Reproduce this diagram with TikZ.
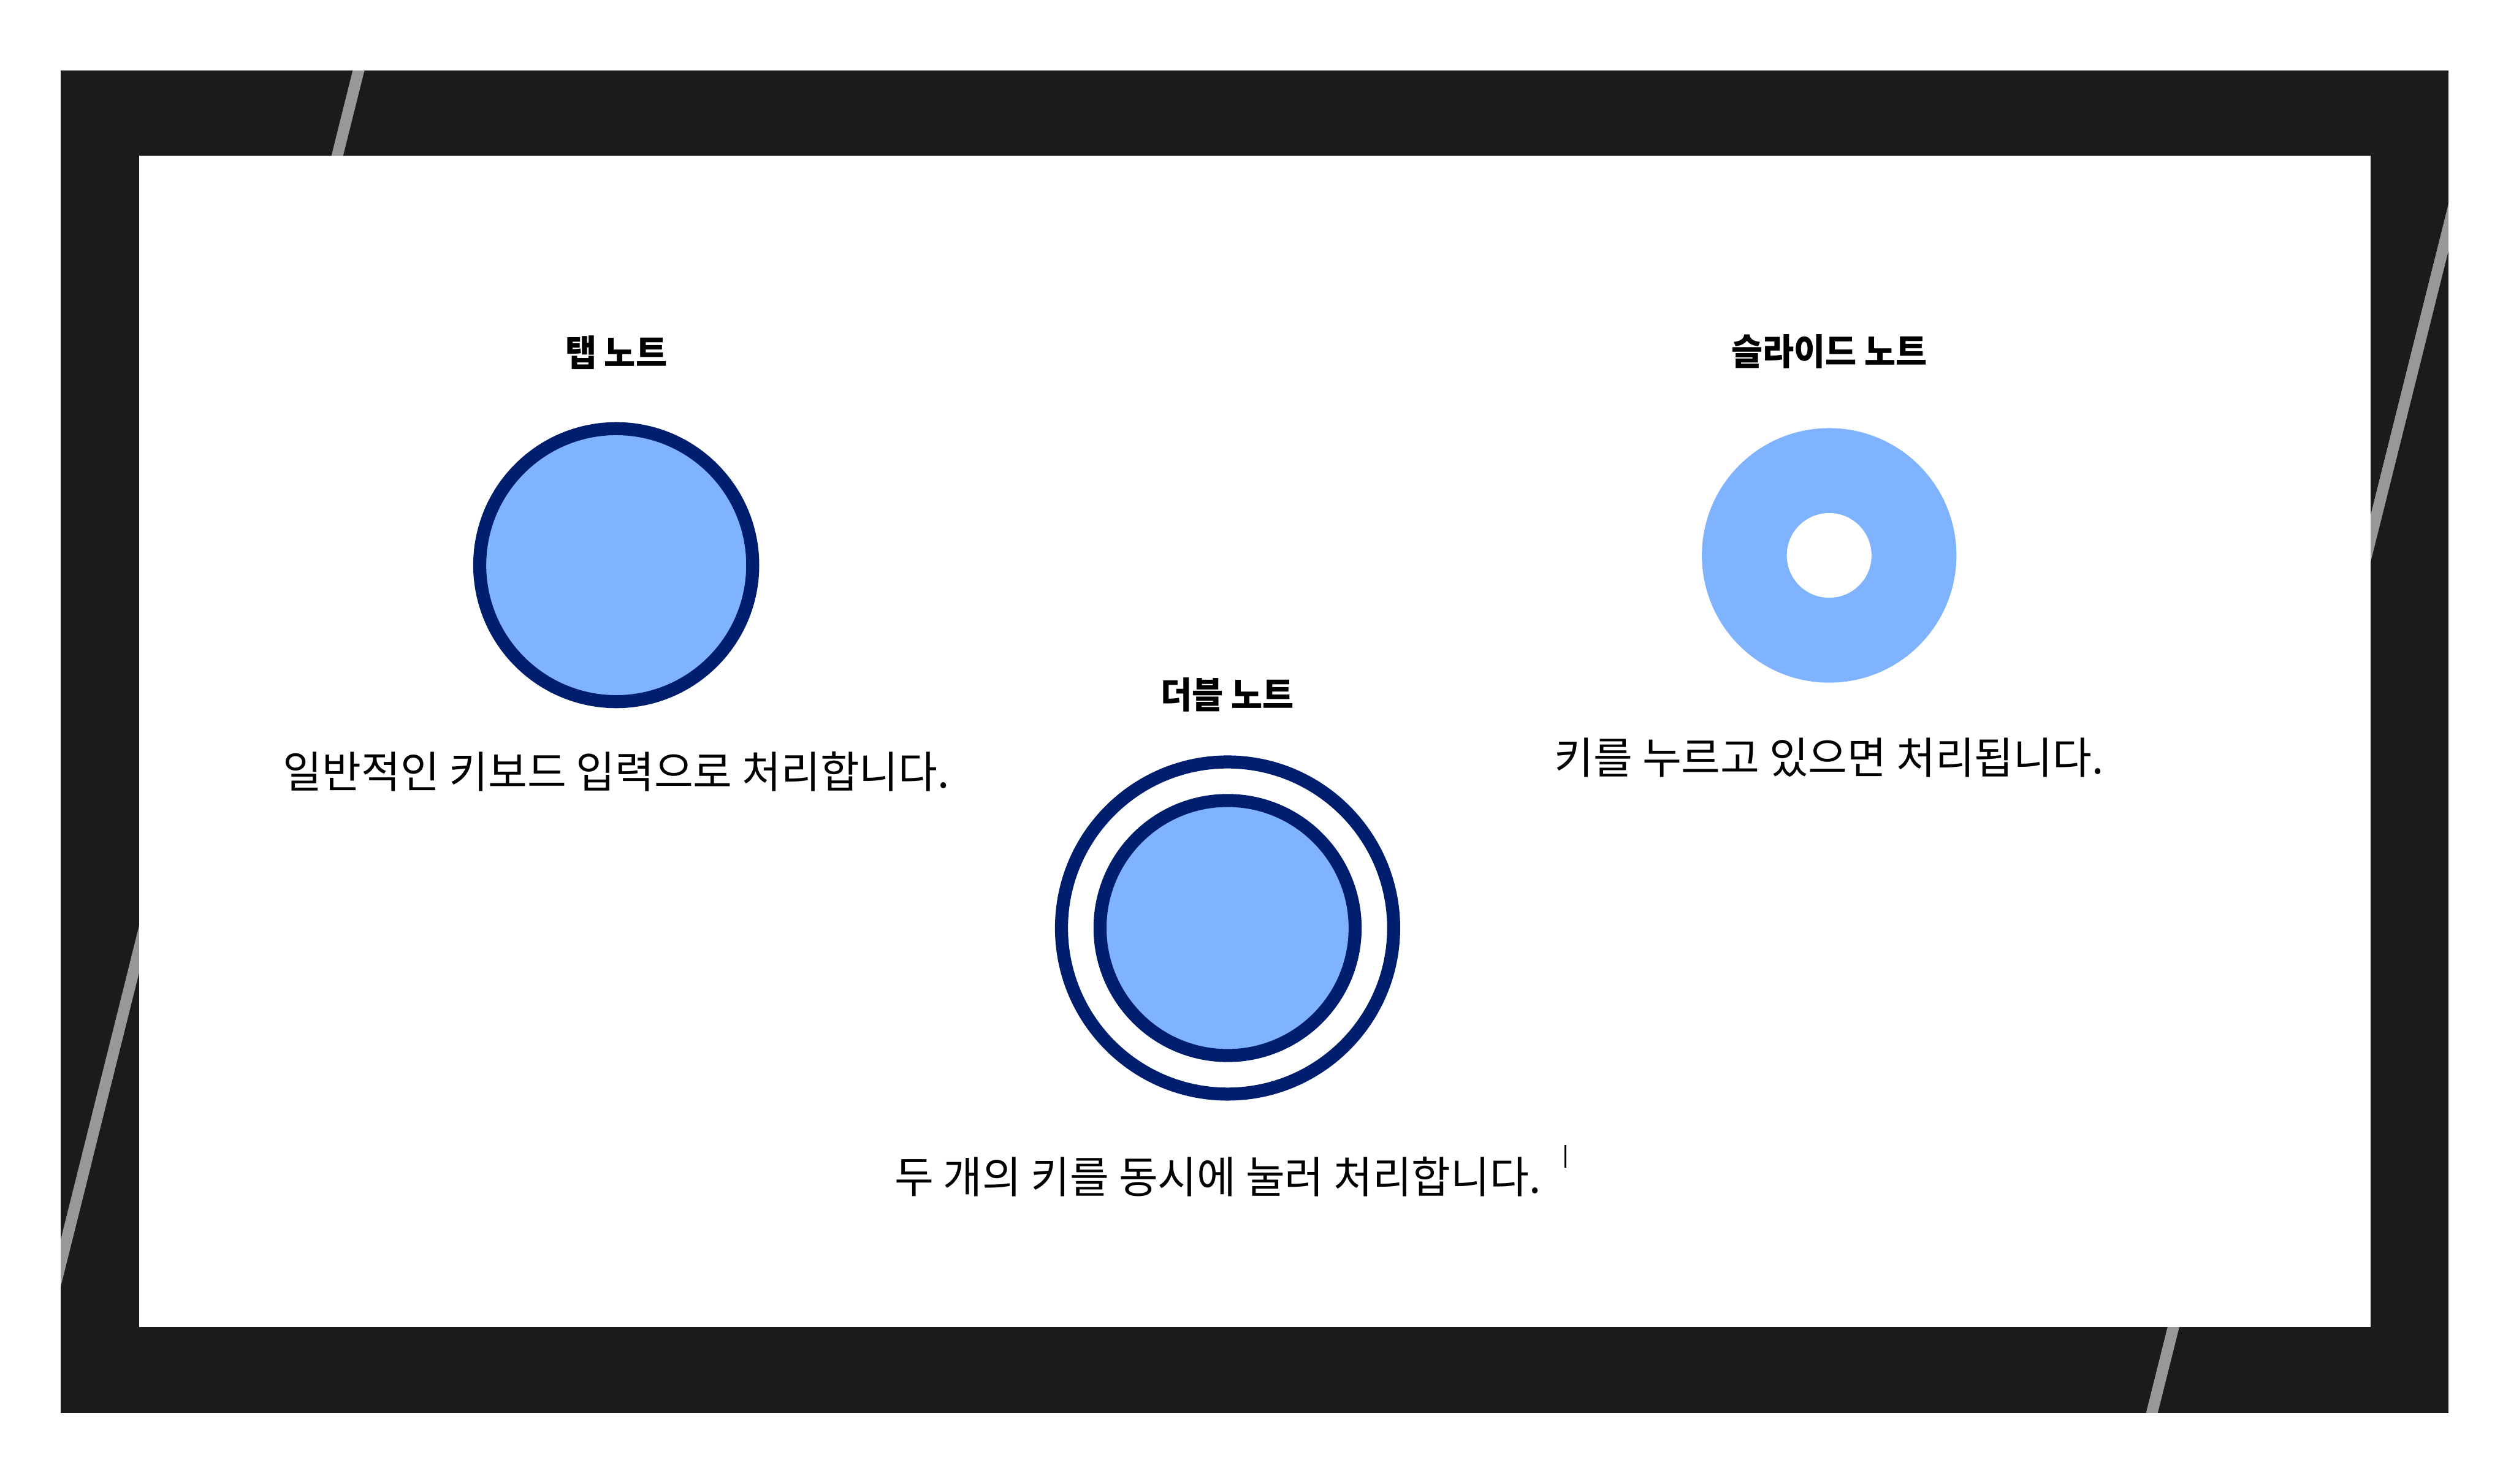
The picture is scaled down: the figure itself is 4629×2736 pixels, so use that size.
\documentclass[tikz,border=0pt]{standalone}
\usepackage{fontspec}
\newfontfamily\krtitle{Noto Sans CJK KR}[FakeStretch=0.94]
\newfontfamily\krtext{Noto Sans CJK KR}[FakeStretch=0.978]
\usetikzlibrary{positioning}
\definecolor{framedark}{HTML}{1B1B1B}
\definecolor{noteblue}{HTML}{7FB3FF}
\definecolor{notenavy}{HTML}{001E6E}

\begin{document}
\begin{tikzpicture}[
x=0.01cm, y=0.01cm,
node distance=1cm,
tapnote/.style={circle, draw=notenavy, line width=0.24cm, fill=noteblue, minimum size=5.03cm, inner sep=0pt},
dblring/.style={circle, draw=notenavy, line width=0.24cm, fill=white, minimum size=6.12cm, inner sep=0pt},
slidenote/.style={circle, fill=noteblue, minimum size=4.69cm, inner sep=0pt},
slidehole/.style={circle, fill=white, minimum size=1.56cm, inner sep=0pt},
title/.style={inner sep=0pt, font=\krtitle\bfseries\fontsize{19pt}{19pt}\selectfont},
desc/.style={inner sep=0pt, font=\krtext\fontsize{22.8pt}{24pt}\selectfont},
edgeline/.style={draw=white, draw opacity=0.55, line width=0.21cm},
cursor/.style={draw=black, line width=0.03cm}
]
\useasboundingbox (0,0) rectangle (4629,2736);
\fill[white] (0,0) rectangle (4629,2736);

% frame
\fill[framedark] (112,131) rectangle (4514,2606);
\fill[white] (257,289) rectangle (4370,2449);
\draw[edgeline] (15,19) -- (689,2718) -- (4614,2718) -- (3939,19) -- cycle;

% tap note
\node[tapnote] (tap) at (1136,1694) {};
\node[title, above=0.97cm of tap] (taptitle) {탭 노트};
\node[desc, below=0.79cm of tap] (tapdesc) {일반적인 키보드 입력으로 처리합니다.};

% slide note
\node[slidenote] (slide) at (3372,1712) {};
\node[slidehole] (hole) at (slide.center) {};
\node[title, above=1.08cm of slide] (slidetitle) {슬라이드 노트};
\node[desc, below=1.0cm of slide] (slidedesc) {키를 누르고 있으면 처리됩니다.};

% double note
\node[dblring] (dblout) at (2263,1025) {};
\node[tapnote, minimum size=4.70cm] (dblin) at (dblout.center) {};
\node[title, above=0.80cm of dblout] (dbltitle) {더블 노트};
\node[desc, below=1.03cm of dblout, xshift=-0.18cm] (dbldesc) {두 개의 키를 동시에 눌러 처리합니다.};
\draw[cursor] (2886,583) -- (2886,625);
\end{tikzpicture}
\end{document}
